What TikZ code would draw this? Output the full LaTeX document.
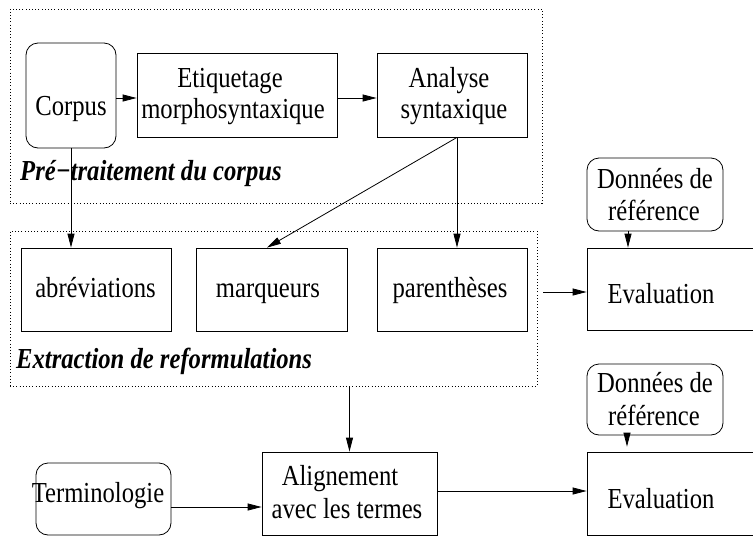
\documentclass[tikz,border=0pt]{standalone}
\usepackage{fontspec}
\setmainfont[FakeStretch=0.85]{Liberation Serif}
\usetikzlibrary{arrows.meta}
\begin{document}
\begin{tikzpicture}[x=1pt,y=-1pt,
  box/.style={draw, line width=0.8pt, inner sep=0pt},
  rbox/.style={box, rounded corners=12pt},
  dotbox/.style={draw, line width=0.8pt, dash pattern=on 0.9pt off 2.3pt, inner sep=0pt},
  lbl/.style={inner sep=0pt, anchor=base, font=\fontsize{29}{33}\selectfont},
  tlbl/.style={inner sep=0pt, anchor=base west, font=\fontsize{29}{33}\selectfont\bfseries\itshape},
  arr/.style={-{Triangle[length=14pt,width=7pt]}, line width=0.8pt}]
\useasboundingbox (0,0) rectangle (753,536);

% dotted group boxes
\node[dotbox, minimum width=532pt, minimum height=194pt] (dot1) at (276,106) {};
\node[dotbox, minimum width=527pt, minimum height=155pt] (dot2) at (273.5,308.5) {};

% boxes
\node[rbox, minimum width=90pt, minimum height=105pt] (corpus) at (71,95.5) {};
\node[box, minimum width=200pt, minimum height=84pt] (etiq) at (237,95) {};
\node[box, minimum width=150pt, minimum height=84pt] (analyse) at (452,95) {};
\node[box, minimum width=150pt, minimum height=83pt] (abrev) at (96,289.5) {};
\node[box, minimum width=151pt, minimum height=83pt] (marq) at (271.5,289.5) {};
\node[box, minimum width=150pt, minimum height=83pt] (paren) at (452,289.5) {};
\node[rbox, minimum width=136pt, minimum height=73pt] (don1) at (655,194.5) {};
\node[box, minimum width=168pt, minimum height=82pt] (eval1) at (671,289) {};
\node[rbox, minimum width=136pt, minimum height=71pt] (don2) at (655,399.5) {};
\node[box, minimum width=168pt, minimum height=83pt] (eval2) at (671,493.5) {};
\node[rbox, minimum width=135pt, minimum height=72pt] (term) at (103.5,499) {};
\node[box, minimum width=175pt, minimum height=83pt] (align) at (349.5,493.5) {};

% texts
\node[lbl] (tcorpus) at (71,115) {Corpus};
\node[lbl] (tetiq1) at (230,87) {Etiquetage};
\node[lbl] (tetiq2) at (233,118) {morphosyntaxique};
\node[lbl] (tana1) at (449,87) {Analyse};
\node[lbl] (tana2) at (454,118) {syntaxique};
\node[tlbl] (tpre) at (20,180) {Pré−traitement du corpus};
\node[lbl] (tabrev) at (95.5,297) {abréviations};
\node[lbl] (tmarq) at (268,297) {marqueurs};
\node[lbl] (tparen) at (450,297) {parenthèses};
\node[lbl] (teval1) at (661,303) {Evaluation};
\node[tlbl] (textr) at (16,368) {Extraction de reformulations};
\node[lbl] (tdon1a) at (655,188) {Données de};
\node[lbl] (tdon1b) at (654,220) {référence};
\node[lbl] (tdon2a) at (655,392) {Données de};
\node[lbl] (tdon2b) at (654,425) {référence};
\node[lbl] (tterm) at (98,502) {Terminologie};
\node[lbl] (talign1) at (340,485) {Alignement};
\node[lbl] (talign2) at (347,518) {avec les termes};
\node[lbl] (teval2) at (661,508) {Evaluation};

% connectors
\draw[arr] (corpus.east |- 0,98) -- (etiq.west |- 0,98);
\draw[arr] (etiq.east |- 0,98) -- (analyse.west |- 0,98);
\draw[arr] (corpus.south) -- (corpus.south |- abrev.north);
\coordinate (as) at ([xshift=5pt]analyse.south);
\draw[arr] (as) -- ([xshift=-4.5pt]marq.north);
\draw[arr] (as) -- (as |- paren.north);
\draw[arr, shorten <=6pt] (dot2.east |- 0,292) -- (eval1.west |- 0,292);
\coordinate (d1s) at ([xshift=-27pt]don1.south);
\draw[arr] (d1s) -- (d1s |- eval1.north);
\coordinate (d2s) at ([xshift=-28pt]don2.south);
\draw[arr, shorten >=5pt] (d2s) -- (d2s |- eval2.north);
\draw[arr] (align.north |- dot2.south) -- (align.north);
\draw[arr] (term.east |- 0,507) -- (align.west |- 0,507);
\draw[arr] (align.east |- 0,491) -- (eval2.west |- 0,491);
\end{tikzpicture}
\end{document}
